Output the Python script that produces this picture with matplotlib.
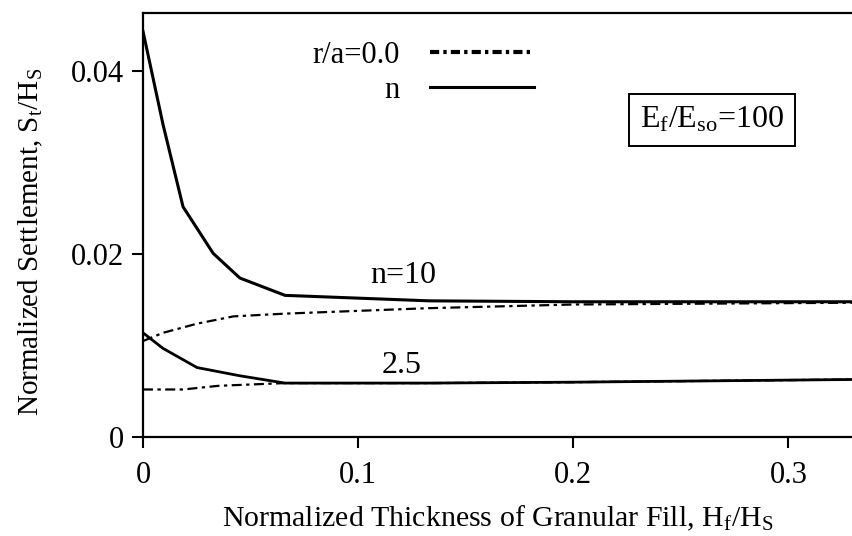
import matplotlib
matplotlib.use("Agg")
import matplotlib.pyplot as plt
from matplotlib.lines import Line2D

plt.rcParams['font.family'] = ['Liberation Serif', 'DejaVu Serif']
plt.rcParams['mathtext.fontset'] = 'custom'
plt.rcParams['mathtext.rm'] = 'Liberation Serif'
plt.rcParams['mathtext.it'] = 'Liberation Serif'

# Data (normalized thickness of granular fill, Hf/Hs)
x_n10_solid = [0.0, 0.0093, 0.0186, 0.0326, 0.045, 0.066, 0.133, 0.2, 0.333]
y_n10_solid = [0.0444, 0.0342, 0.0252, 0.0201, 0.0174, 0.0155, 0.0149, 0.0148, 0.0148]
x_n10_dash = [0.0, 0.0093, 0.0251, 0.042, 0.066, 0.133, 0.2, 0.333]
y_n10_dash = [0.0105, 0.0114, 0.0124, 0.0132, 0.0135, 0.0141, 0.0145, 0.0147]
x_n25_solid = [0.0, 0.0093, 0.0251, 0.045, 0.066, 0.133, 0.2, 0.333]
y_n25_solid = [0.0114, 0.0097, 0.0076, 0.0067, 0.0059, 0.0059, 0.0060, 0.0063]
x_n25_dash = [0.0, 0.0186, 0.035, 0.066, 0.133, 0.2, 0.333]
y_n25_dash = [0.0052, 0.0052, 0.0056, 0.0059, 0.0059, 0.0060, 0.0063]

x_ticks = [0, 0.1, 0.2, 0.3]
x_ticklabels = ['0', '0.1', '0.2', '0.3']
y_ticks = [0, 0.02, 0.04]
y_ticklabels = ['0', '0.02', '0.04']

fig = plt.figure(figsize=(8.53, 5.36), dpi=100)
ax = fig.add_axes([143/853, 1-437/536, 1-143/853, (437-13)/536])

dash_pat = (4.5, 2, 1.5, 2)
ax.plot(x_n10_solid, y_n10_solid, color='black', lw=2.2)
ax.plot(x_n25_solid, y_n25_solid, color='black', lw=2.0)
ax.plot(x_n10_dash, y_n10_dash, color='black', lw=1.6, dashes=dash_pat)
ax.plot(x_n25_dash, y_n25_dash, color='black', lw=1.6, dashes=dash_pat)

ax.set_xlim(0, 0.330)
ax.set_ylim(0, 0.0464)
ax.set_xticks(x_ticks)
ax.set_xticklabels(x_ticklabels)
ax.set_yticks(y_ticks)
ax.set_yticklabels(y_ticklabels)
ax.tick_params(axis='both', direction='out', length=8, width=1.5, labelsize=22, pad=6)
ax.tick_params(axis='x', pad=9)

for side in ['left', 'bottom', 'top']:
    ax.spines[side].set_linewidth(1.6)
ax.spines['right'].set_visible(False)

ax.set_xlabel(r'Normalized Thickness of Granular Fill, H$_\mathrm{f}$/H$_\mathrm{S}$', fontsize=21.5, labelpad=10)
ax.set_ylabel(r'Normalized Settlement, S$_\mathrm{t}$/H$_\mathrm{S}$', fontsize=21)
ax.yaxis.set_label_coords(-0.138, 0.46)

ax.text(0.1056, 0.0169, 'n=10', fontsize=23, ha='left', va='baseline')
ax.text(0.111, 0.0070, '2.5', fontsize=23, ha='left', va='baseline')

ax.text(0.2645, 0.0347, r'E$_\mathrm{f}$/E$_\mathrm{so}$=100', fontsize=23, ha='center', va='center',
        bbox=dict(boxstyle='square,pad=0.35', facecolor='white', edgecolor='black', linewidth=1.4))

handles = [Line2D([0], [0], color='black', lw=3.0, dashes=(2.2, 1, 0.8, 1)),
           Line2D([0], [0], color='black', lw=2.2)]
leg = ax.legend(handles, ['r/a=0.0', 'n'], loc='upper right', frameon=False, markerfirst=False,
                fontsize=22, handlelength=3.4, handletextpad=1.0, labelspacing=0.2,
                borderpad=0, borderaxespad=0,
                bbox_to_anchor=(534/853, 1-41/536), bbox_transform=fig.transFigure)

fig.savefig('out.png', dpi=100)
